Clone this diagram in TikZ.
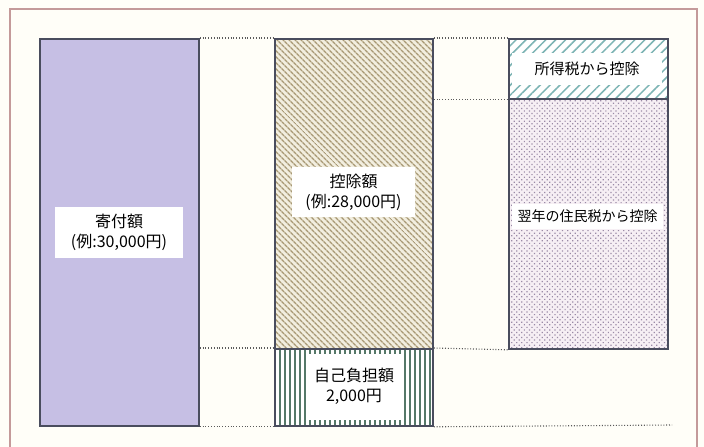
\documentclass[tikz,border=0pt]{standalone}
\usepackage{fontspec}
\setmainfont{Noto Sans CJK JP}
\usetikzlibrary{patterns.meta}
\definecolor{pagebg}{HTML}{FFFEF8}
\definecolor{framecol}{HTML}{C49A9A}
\definecolor{boxline}{HTML}{4A4D5E}
\definecolor{purplefill}{HTML}{C6BFE4}
\definecolor{tanbg}{HTML}{F2EEDF}
\definecolor{tanline}{HTML}{A89874}
\definecolor{greenline}{HTML}{557868}
\definecolor{tealline}{HTML}{7DB4B4}
\definecolor{dotbg}{HTML}{F6EFF4}
\definecolor{dotcol}{HTML}{9A8AA6}
\definecolor{dotline}{HTML}{5A5A5A}
\tikzset{
  barbox/.style={draw=boxline, line width=1.8pt, anchor=north west, inner sep=0pt},
  tag/.style={fill=white, inner sep=2pt, align=center, font=\fontsize{16}{20}\selectfont},
  guide/.style={draw=dotline, line width=1.1pt, dash pattern=on 1pt off 1.8pt},
}
\begin{document}
\begin{tikzpicture}[x=1pt, y=-1pt]
\useasboundingbox (0,0) rectangle (704,447);
\clip (0,0) rectangle (704,447);
\fill[pagebg] (0,0) rectangle (704,447);
\draw[framecol, line width=1.4pt] (10,9) rectangle (697,470);

% bars
\node (donation) [barbox, fill=purplefill, minimum width=159pt, minimum height=387pt] at (39,38) {};
\node (deduct) [barbox, preaction={fill=tanbg}, preaction={pattern={Lines[angle=-45, distance=4pt, line width=1.4pt]}, pattern color=tanline}, minimum width=158pt, minimum height=310pt] at (274,38) {};
\node (selfpay) [barbox, preaction={fill=white}, preaction={pattern={Lines[angle=90, distance=5pt, line width=1.6pt]}, pattern color=greenline}, minimum width=158pt, minimum height=77pt] at (274,348) {};
\node (income) [barbox, preaction={fill=white}, preaction={pattern={Lines[angle=45, distance=7pt, line width=1.5pt]}, pattern color=tealline}, minimum width=159pt, minimum height=60pt] at (508,38) {};
\node (resident) [barbox, preaction={fill=dotbg}, preaction={pattern={Dots[angle=45, distance=3.6pt, radius=0.85pt]}, pattern color=dotcol}, minimum width=159pt, minimum height=250pt] at (508,98) {};

% labels
\node (donationtag) [tag, minimum width=128pt, minimum height=51pt] at (119,232) {寄付額\\(例:30,000円)};
\node (deducttag) [tag, minimum width=123pt, minimum height=50pt] at (353.5,192) {控除額\\(例:28,000円)};
\node (selfpaytag) [tag, minimum width=97pt, minimum height=66pt] at (354,386.5) {自己負担額\\2,000円};
\node (incometag) [tag, minimum width=150pt, minimum height=32pt, font=\fontsize{15}{18}\selectfont] at (587,69) {所得税から控除};
\node (residenttag) [tag, minimum width=151pt, minimum height=25pt, font=\fontsize{14}{17}\selectfont] at (587.5,216) {翌年の住民税から控除};

% guides
\coordinate (bottomend) at (672,425);
\draw[guide] (donation.north east) -- (deduct.north west);
\draw[guide] (donation.east |- selfpay.north) -- (selfpay.north west);
\draw[guide] (donation.south east) -- (selfpay.south west);
\draw[guide] (deduct.north east) -- (income.north west);
\draw[guide] (deduct.east |- income.south) -- (income.south west);
\draw[guide] (selfpay.north east) -- (resident.south west);
\draw[guide] (selfpay.south east) -- (bottomend);
\end{tikzpicture}
\end{document}
